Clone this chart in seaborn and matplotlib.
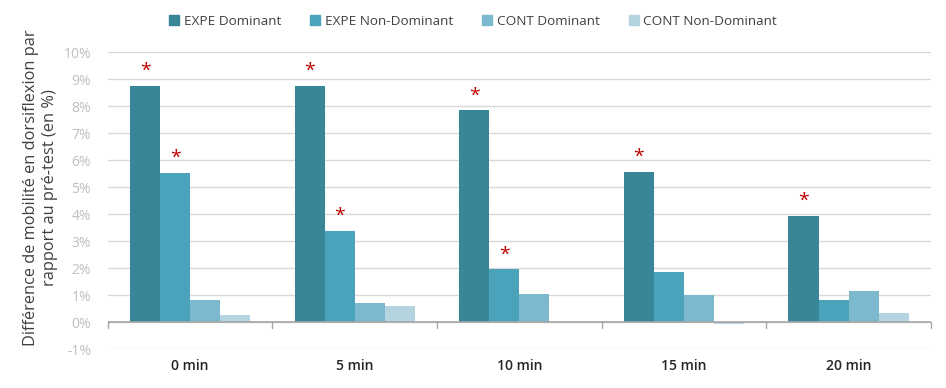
import numpy as np
import pandas as pd
import matplotlib.pyplot as plt
import seaborn as sns
from matplotlib.patches import Patch

# === données ===
temps = ['0 min', '5 min', '10 min', '15 min', '20 min']
series = ['EXPE Dominant', 'EXPE Non-Dominant', 'CONT Dominant', 'CONT Non-Dominant']
expe_dom = [8.75, 8.75, 7.85, 5.58, 3.93]
expe_nondom = [5.52, 3.38, 1.96, 1.85, 0.81]
cont_dom = [0.81, 0.70, 1.06, 1.00, 1.17]
cont_nondom = [0.28, 0.59, 0.0, -0.05, 0.34]
# significativité (*) par série
sig_expe_dom = [True, True, True, True, True]
sig_expe_nondom = [True, True, True, False, False]

colors = ['#3a8699', '#4aa3bb', '#7cb9ce', '#b4d4df']

df = pd.DataFrame({
    'temps': temps * 4,
    'serie': [s for s in series for _ in temps],
    'val': expe_dom + expe_nondom + cont_dom + cont_nondom,
})

sns.set_style('white')
plt.rcParams['font.family'] = ['Open Sans', 'DejaVu Sans']

fig, ax = plt.subplots(figsize=(9.46, 3.88), dpi=100)
sns.barplot(data=df, x='temps', y='val', hue='serie', order=temps, hue_order=series,
            palette=colors, width=0.73, saturation=1, linewidth=0, ax=ax, legend=False)

ax.set_ylim(-1, 10)
ax.set_yticks(np.arange(-1, 11, 1))
ax.set_yticklabels([f'{v}%' for v in range(-1, 11)], color='#bfbfbf', fontsize=10)
ax.yaxis.grid(True, color='#d9d9d9', linewidth=1)
ax.set_axisbelow(True)
ax.tick_params(axis='y', length=0, pad=12)
ax.axhline(0, color='#a6a6a6', linewidth=1.2, zorder=1)

ax.set_xlabel('')
ax.set_ylabel('Différence de mobilité en dorsiflexion par\nrapport au pré-test (en %)',
              color='#404040', fontsize=11.8)
ax.yaxis.set_label_coords(-0.061, 0.545)
ax.tick_params(axis='x', length=0, pad=7, labelsize=10, labelcolor='#262626')
for lab in ax.get_xticklabels():
    lab.set_fontweight('semibold')
ax.set_xlim(-0.5, len(temps) - 0.5)
for s in ax.spines.values():
    s.set_visible(False)

# petits traits entre les groupes
for b in np.arange(-0.5, len(temps), 1):
    ax.plot([b, b], [0, -0.2], color='#a6a6a6', linewidth=1, clip_on=False)

# étoiles
n = len(temps)
for k, sig in enumerate([sig_expe_dom, sig_expe_nondom]):
    bars = ax.patches[k * n:(k + 1) * n]
    for bar, s in zip(bars, sig):
        if s:
            ax.text(bar.get_x() + bar.get_width() / 2, bar.get_height() + 0.22, '*',
                    ha='center', va='bottom', color='#c00000', fontsize=14)

handles = [Patch(color=c, label=s) for c, s in zip(colors, series)]
fig.legend(handles=handles, loc='center', bbox_to_anchor=(0.5, 0.945), ncol=4,
           frameon=False, fontsize=9.7, handlelength=0.75, handleheight=0.75,
           columnspacing=2.15, handletextpad=0.35, labelcolor='#404040')

plt.subplots_adjust(left=0.114, right=0.984, top=0.865, bottom=0.1)
plt.savefig('out.png', dpi=100)
